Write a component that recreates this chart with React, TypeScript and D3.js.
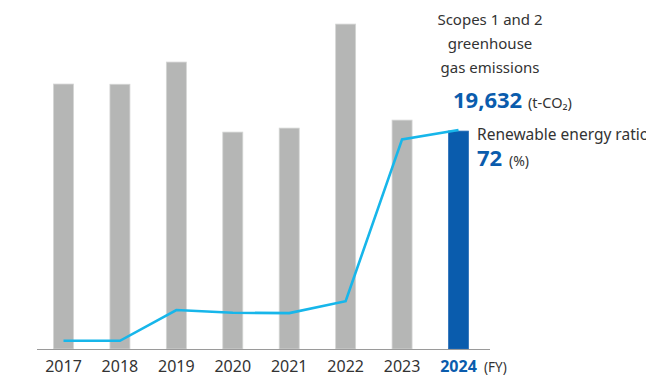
import React from "react";
import * as d3 from "d3";

const years = ["2017", "2018", "2019", "2020", "2021", "2022", "2023", "2024"];
const emissions = [23870, 23850, 25850, 19540, 19900, 29270, 20620, 19632];
const renewableRatio = [2.7, 2.7, 12.8, 11.9, 11.8, 15.7, 68.9, 72];
const titleLines = ["Scopes 1 and 2", "greenhouse", "gas emissions"];
const emissionsLabel = "19,632";
const emissionsUnit = "(t-CO₂)";
const ratioTitle = "Renewable energy ratio";
const ratioLabel = "72";
const ratioUnit = "(%)";
const fyLabel = "(FY)";

const W = 646;
const H = 381;
const FONT = "'Noto Sans', sans-serif";
const TEXT = "#333333";
const BLUE = "#0a5cad";
const CYAN = "#17b6ea";
const GRAY = "#b5b6b5";

export default function App() {
  const baseline = 349;
  const x = d3.scalePoint<string>().domain(years).range([63.5, 458.5]);
  const y = d3.scaleLinear().domain([0, 30000]).range([baseline, 16]);
  const yPct = d3.scaleLinear().domain([0, 100]).range([baseline, baseline - 304.2]);
  const barW = 20;
  const last = years[years.length - 1];

  const line = d3
    .line<number>()
    .x((_, i) => x(years[i]) as number)
    .y((d) => yPct(d));

  return (
    <svg
      width={W}
      height={H}
      style={{ position: "absolute", left: 0, top: 0, background: "#fff" }}
      fontFamily={FONT}
    >
      {years.map((yr, i) => (
        <rect
          key={yr}
          x={(x(yr) as number) - barW / 2}
          y={y(emissions[i])}
          width={barW}
          height={baseline - y(emissions[i])}
          fill={yr === last ? BLUE : GRAY}
          stroke={yr === last ? "#2a6fb8" : "#d4d5d4"}
          strokeWidth={0.8}
        />
      ))}
      <line x1={37} x2={490} y1={baseline + 0.5} y2={baseline + 0.5} stroke="#9a9a9a" strokeWidth={1.2} />
      <path d={line(renewableRatio) || ""} fill="none" stroke={CYAN} strokeWidth={2.6} strokeLinejoin="miter" />
      {years.map((yr) => (
        <text
          key={yr}
          x={x(yr) as number}
          y={371.5}
          textAnchor="middle"
          fontSize={16}
          fill={yr === last ? BLUE : TEXT}
          fontWeight={yr === last ? 700 : 400}
        >
          {yr}
        </text>
      ))}
      <text x={484} y={371.5} fontSize={13.5} fill={TEXT}>
        {fyLabel}
      </text>
      {titleLines.map((t, i) => (
        <text key={t} x={490} y={25 + i * 23.8} textAnchor="middle" fontSize={15} fill={TEXT}>
          {t}
        </text>
      ))}
      <text x={453} y={107.5} fontSize={22} fontWeight={700} fill={BLUE}>
        {emissionsLabel}
      </text>
      <text x={528} y={107.5} fontSize={14.5} fill={TEXT}>
        {emissionsUnit}
      </text>
      <text x={477} y={139.5} fontSize={15.5} fill={TEXT}>
        {ratioTitle}
      </text>
      <text x={477} y={166} fontSize={22} fontWeight={700} fill={BLUE}>
        {ratioLabel}
      </text>
      <text x={509} y={166} fontSize={14} fill={TEXT}>
        {ratioUnit}
      </text>
    </svg>
  );
}
